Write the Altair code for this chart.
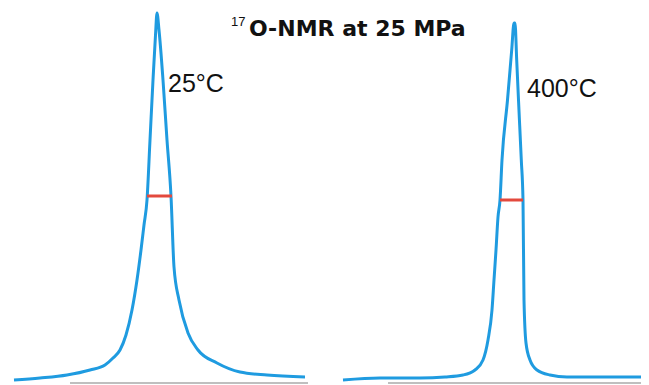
import altair as alt
import pandas as pd

# Peak at 25 °C (x position, signal height)
t25_x = [14, 40, 67, 90, 105, 113, 120, 126, 132, 137, 141, 144, 147, 150, 153, 155.5,
         157, 159, 163, 167, 171, 174, 179, 188, 198, 217, 240, 267, 305]
t25_y = [5, 7, 10, 15, 20, 27, 35, 50, 75, 105, 135, 160, 185, 245, 305, 350,
         372, 355, 305, 245, 189, 118, 85, 52, 35, 22, 13, 10, 8]

# Peak at 400 °C
t400_x = [343, 380, 420, 445, 463, 475, 483, 488, 492, 494, 496, 498, 500, 502, 507.5,
          511.7, 514, 515, 516.7, 518.5, 521.3, 523, 524, 526, 530, 537, 550, 567, 600, 641]
t400_y = [5, 7, 7, 8, 10, 15, 25, 45, 75, 105, 135, 168, 185, 225, 285,
          335, 362, 362, 325, 285, 225, 185, 85, 42, 25, 15, 10, 8, 8, 8]

# Full width at half maximum markers
fwhm_x1 = [147, 500]
fwhm_x2 = [172, 523]
fwhm_y = [189, 185]

# Baselines (spectrum x-range)
base_x1 = [70, 388]
base_x2 = [308, 641]
base_y = [2, 2]

labels = ["25°C", "400°C"]

BLUE = "#1f9be0"
RED = "#e3493d"

xs = alt.Scale(domain=[8, 641], nice=False, zero=False)
ys = alt.Scale(domain=[0, 377], nice=False, zero=False)

curves = pd.DataFrame({
    "x": t25_x + t400_x,
    "y": t25_y + t400_y,
    "T": ["25"] * len(t25_x) + ["400"] * len(t400_x),
})
fwhm = pd.DataFrame({"x1": fwhm_x1, "x2": fwhm_x2, "y": fwhm_y})
base = pd.DataFrame({"x1": base_x1, "x2": base_x2, "y": base_y})

baseline = alt.Chart(base).mark_rule(color="#aaaaaa", strokeWidth=1.5).encode(
    x=alt.X("x1:Q", scale=xs, axis=None), x2="x2:Q",
    y=alt.Y("y:Q", scale=ys, axis=None))

lines = alt.Chart(curves).mark_line(color=BLUE, strokeWidth=3, interpolate="monotone").encode(
    x=alt.X("x:Q", scale=xs, axis=None),
    y=alt.Y("y:Q", scale=ys, axis=None),
    detail="T:N")

bars = alt.Chart(fwhm).mark_rule(color=RED, strokeWidth=3).encode(
    x=alt.X("x1:Q", scale=xs, axis=None), x2="x2:Q",
    y=alt.Y("y:Q", scale=ys, axis=None))

lab25 = alt.Chart(pd.DataFrame({"t": [labels[0]]})).mark_text(
    align="left", baseline="alphabetic", font="Liberation Sans", fontSize=25, color="#111111"
).encode(x=alt.value(160), y=alt.value(84), text="t:N")

lab400 = alt.Chart(pd.DataFrame({"t": [labels[1]]})).mark_text(
    align="left", baseline="alphabetic", font="Liberation Sans", fontSize=25, color="#111111"
).encode(x=alt.value(519), y=alt.value(89), text="t:N")

sup = alt.Chart(pd.DataFrame({"t": ["17"]})).mark_text(
    align="left", baseline="alphabetic", font="Liberation Sans", fontSize=13, color="#111111"
).encode(x=alt.value(223), y=alt.value(18), text="t:N")

title = alt.Chart(pd.DataFrame({"t": ["O-NMR at 25 MPa"]})).mark_text(
    align="left", baseline="alphabetic", font="DejaVu Sans", fontSize=22, fontWeight="bold",
    color="#111111"
).encode(x=alt.value(241), y=alt.value(28), text="t:N")

chart = alt.layer(baseline, lines, bars, lab25, lab400, sup, title).properties(
    width=633, height=377, padding=0, autosize=alt.AutoSizeParams(type="none")
).configure_view(stroke=None)

chart.save("out.html", embed_options={"renderer": "svg", "actions": False})
